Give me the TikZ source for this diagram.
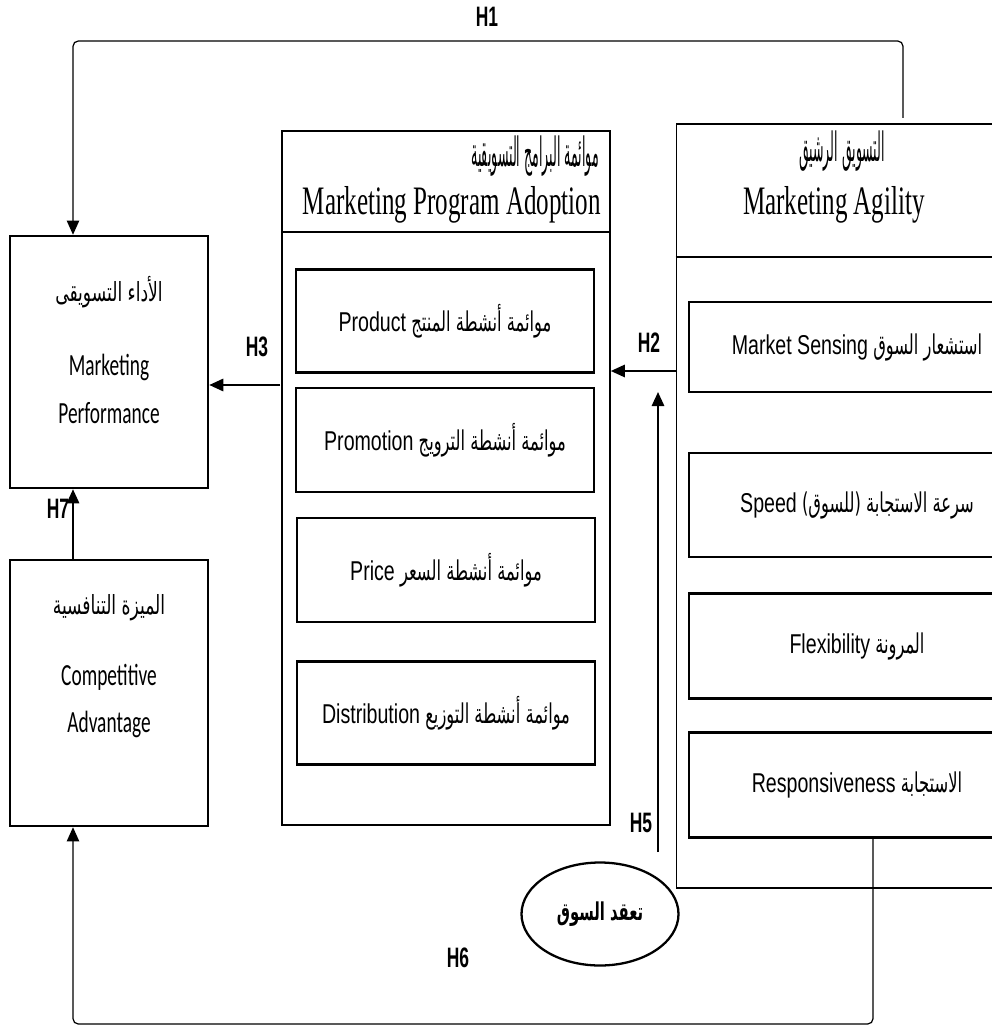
\documentclass[tikz,border=0pt]{standalone}
\usepackage{fontspec}
\usetikzlibrary{arrows.meta,shapes.geometric,positioning}
\TeXXeTstate=1
\newfontfamily\arabicfont[Script=Arabic,FakeStretch=0.6]{DejaVu Sans}
\newfontfamily\arabichead[Script=Arabic,FakeStretch=0.31]{DejaVu Sans}
\newfontfamily\arabicside[Script=Arabic,FakeStretch=0.65]{DejaVu Sans}
\newfontfamily\timesfont[FakeStretch=0.62]{Liberation Serif}
\newfontfamily\calfont[FakeStretch=0.63]{Carlito}
\newfontfamily\arialfont[FakeStretch=0.72]{Liberation Sans}
\newfontfamily\hypfont[FakeStretch=0.62]{Liberation Sans}
\newlength\pxu
\setlength\pxu{0.02cm}
% arabic words first, english words at the left end
\newcommand{\mixtext}[2]{\beginR #1 {\arialfont\beginL #2\endL}\endR}

\tikzset{
  outerbox/.style={draw, line width=0.9pt, inner sep=0pt},
  mainbox/.style={draw, line width=1.4pt, inner sep=0pt},
  itembox/.style={draw, line width=1.5pt, inner sep=0pt, align=center,
    font=\arabicfont\fontsize{15.5}{18}\selectfont},
  sidear/.style={font=\arabicside\fontsize{15}{17}\selectfont},
  sideen/.style={font=\calfont\fontsize{17.5}{27}\selectfont, align=center},
  headar/.style={font=\arabichead\fontsize{23}{26}\selectfont},
  headen/.style={font=\timesfont\fontsize{23}{26}\selectfont},
  hlabel/.style={font=\hypfont\bfseries\fontsize{16}{16}\selectfont},
  arr/.style={-{Triangle[length=8pt,width=7pt]}, line width=1.2pt},
  link/.style={line width=0.7pt},
}

\begin{document}
\begin{tikzpicture}[x=0.02cm, y=-0.02cm]
  \useasboundingbox (0,0) rectangle (991,1027);

  % left column
  \node[mainbox, minimum width=198\pxu, minimum height=252\pxu] (perf) at (109,362) {};
  \node[sidear] (perfar) at (109,292) {\beginR الأداء التسويقى\endR};
  \node[sideen] (perfen) at (109,389) {Marketing\\Performance};

  \node[mainbox, minimum width=198\pxu, minimum height=266\pxu] (comp) at (109,693) {};
  \node[sidear] (compar) at (109,608) {\beginR الميزة التنافسية\endR};
  \node[sideen] (compen) at (109,701) {Competitive\\Advantage};

  % marketing program adoption
  \node[outerbox, minimum width=328\pxu, minimum height=694\pxu] (mpa) at (446,478) {};
  \coordinate (mpadiv) at (0,232);
  \draw[link] (mpa.west |- mpadiv) -- (mpa.east |- mpadiv);
  \node[headar, anchor=east] (mpaar) at (605,156) {\beginR موائمة البرامج التسويقية\endR};
  \node[headen, anchor=east] (mpaen) at (607,205) {Marketing Program Adoption};

  \node[itembox, minimum width=298\pxu, minimum height=103\pxu] (prod) at (445,321) {\mixtext{موائمة أنشطة المنتج}{Product}};
  \node[itembox, minimum width=298\pxu, minimum height=104\pxu] (prom) at (445,440) {\mixtext{موائمة أنشطة الترويج}{Promotion}};
  \node[itembox, minimum width=298\pxu, minimum height=104\pxu] (price) at (446,570) {\mixtext{موائمة أنشطة السعر}{Price}};
  \node[itembox, minimum width=298\pxu, minimum height=103\pxu] (dist) at (446,713) {\mixtext{موائمة أنشطة التوزيع}{Distribution}};

  % marketing agility
  \node[outerbox, minimum width=323\pxu, minimum height=764\pxu] (ma) at (838,506) {};
  \coordinate (madiv) at (0,257);
  \draw[link] (ma.west |- madiv) -- (ma.east |- madiv);
  \node[headar] (maar) at (842,151) {\beginR التسويق الرشيق\endR};
  \node[headen] (maen) at (834,205) {Marketing Agility};

  \node[itembox, minimum width=336\pxu, minimum height=90\pxu] (sens) at (857,347) {\mixtext{استشعار السوق}{Market Sensing}};
  \node[itembox, minimum width=336\pxu, minimum height=104\pxu] (speed) at (857,505) {\mixtext{سرعة الاستجابة (للسوق)}{Speed}};
  \node[itembox, minimum width=336\pxu, minimum height=105\pxu] (flex) at (857,646) {\mixtext{المرونة}{Flexibility}};
  \node[itembox, minimum width=336\pxu, minimum height=105\pxu] (resp) at (857,785) {\mixtext{الاستجابة}{Responsiveness}};

  % market complexity
  \node[ellipse, draw, line width=1.3pt, minimum width=157\pxu, minimum height=103\pxu,
    font=\arabicfont\bfseries\fontsize{14}{16}\selectfont] (mkt) at (600,914) {\beginR تعقد السوق\endR};

  % hypotheses
  \coordinate (h1s) at (903,118);
  \coordinate (h1c) at (73,41);
  \draw[arr, line width=0.7pt, rounded corners=3pt] (h1s) |- (h1c) -- (perf.north -| h1c);
  \node[hlabel] (h1) at (487,17) {H1};

  \coordinate (h2) at (677,371);
  \draw[arr] (h2) -- (h2 -| mpa.east);
  \node[hlabel] (h2l) at (649,343) {H2};

  \coordinate (h3) at (280,385);
  \draw[arr] (h3) -- (h3 -| perf.east);
  \node[hlabel] (h3l) at (257,347) {H3};

  \coordinate (h5s) at (658,852);
  \coordinate (h5e) at (658,392);
  \draw[arr] (h5s) -- (h5e);
  \node[hlabel] (h5l) at (641,823) {H5};

  \coordinate (h6c) at (873,1024);
  \draw[arr, line width=0.7pt, rounded corners=3pt] (resp.south -| h6c) -- (h6c) -| (comp.south -| h1c);
  \node[hlabel] (h6l) at (458,958) {H6};

  \draw[arr] (comp.north -| h1c) -- (perf.south -| h1c);
  \node[hlabel] (h7l) at (58,509) {H7};
\end{tikzpicture}
\end{document}
